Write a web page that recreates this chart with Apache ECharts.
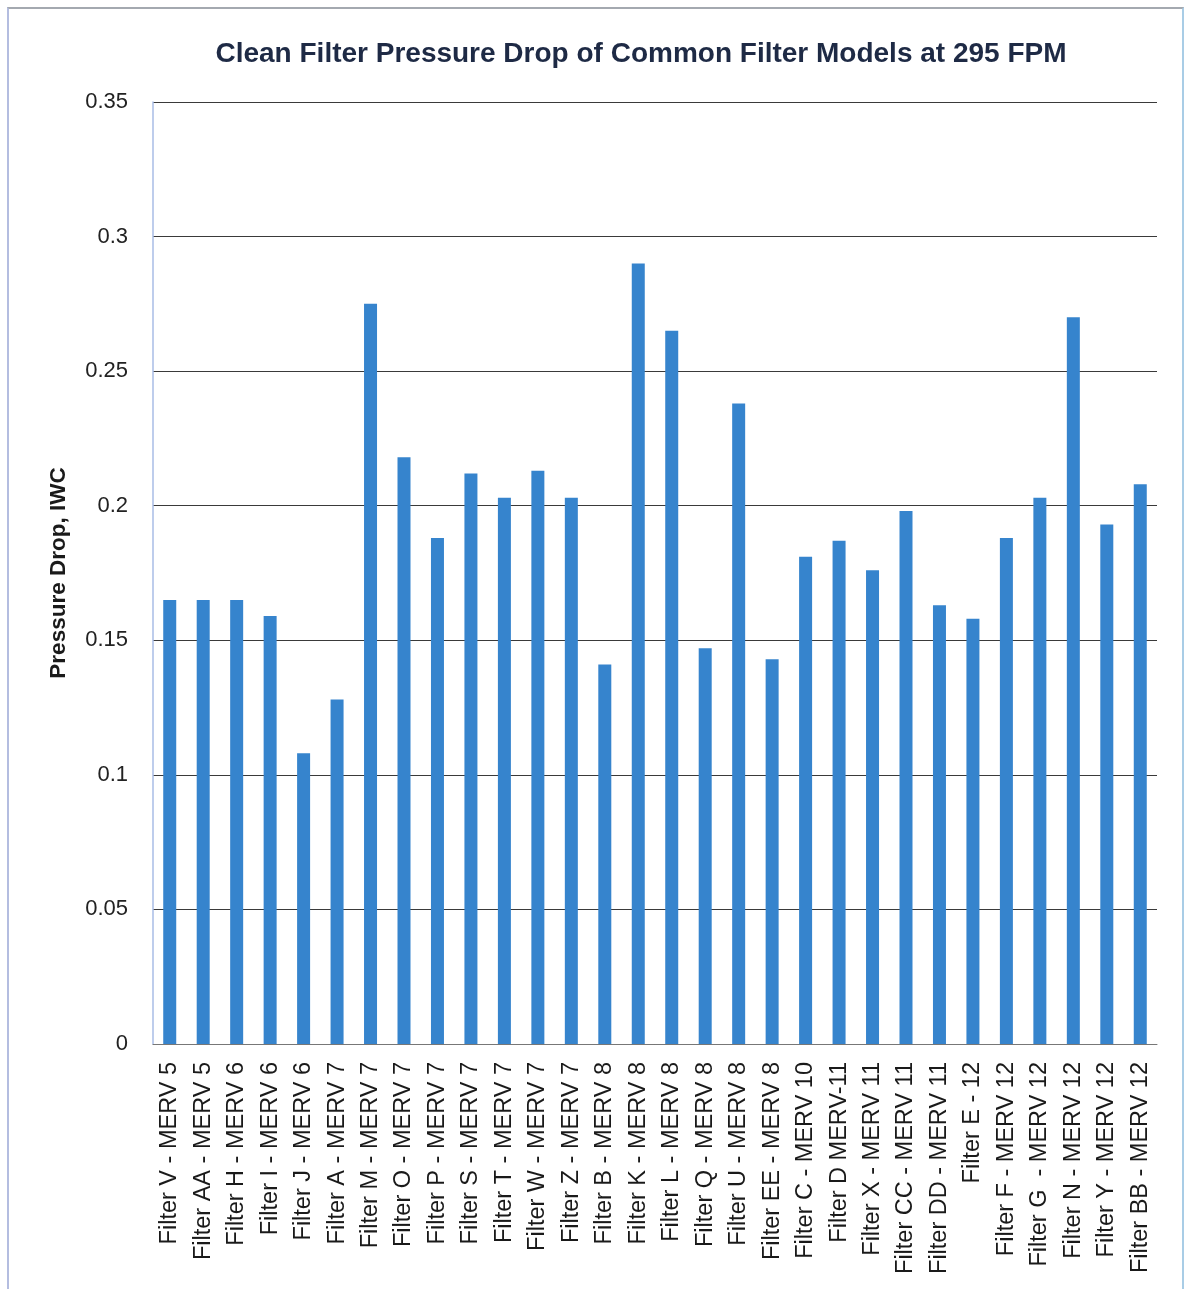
<!DOCTYPE html>
<html>
<head>
<meta charset="utf-8">
<script src="https://cdn.jsdelivr.net/npm/echarts@6/dist/echarts.min.js"></script>
<style>
  html, body { margin: 0; padding: 0; background: #fff; }
  #wrap { position: relative; width: 1194px; height: 1289px; }
  #frame { position: absolute; left: 7px; top: 7px; width: 1177px; height: 1290px;
           border-top: 2px solid #a4a9b0; border-left: 2px solid #b4bde0; border-right: 2px solid #a9cde6; box-sizing: border-box; }
  #chart { position: absolute; left: 0; top: 0; width: 1194px; height: 1289px; }
</style>
</head>
<body>
<div id="wrap">
  <div id="frame"></div>
  <div id="chart"></div>
</div>
<script>
// Filter models, in display order
const categories = [
  'Filter V - MERV 5', 'Filter AA - MERV 5', 'Filter H - MERV 6', 'Filter I - MERV 6',
  'Filter J - MERV 6', 'Filter A - MERV 7', 'Filter M - MERV 7', 'Filter O - MERV 7',
  'Filter P - MERV 7', 'Filter S - MERV 7', 'Filter T - MERV 7', 'Filter W - MERV 7',
  'Filter Z - MERV 7', 'Filter B - MERV 8', 'Filter K - MERV 8', 'Filter L - MERV 8',
  'Filter Q - MERV 8', 'Filter U - MERV 8', 'Filter EE - MERV 8', 'Filter C - MERV 10',
  'Filter D MERV-11', 'Filter X - MERV 11', 'Filter CC - MERV 11', 'Filter DD - MERV 11',
  'Filter E - 12', 'Filter F - MERV 12', 'Filter G  - MERV 12', 'Filter N - MERV 12',
  'Filter Y - MERV 12', 'Filter BB - MERV 12'
];

// Clean filter pressure drop (inches of water column) at 295 FPM
const pressureDrop = [
  0.165, 0.165, 0.165, 0.159,
  0.108, 0.128, 0.275, 0.218,
  0.188, 0.212, 0.203, 0.213,
  0.203, 0.141, 0.290, 0.265,
  0.147, 0.238, 0.143, 0.181,
  0.187, 0.176, 0.198, 0.163,
  0.158, 0.188, 0.203, 0.270,
  0.193, 0.208
];

// Value axis ticks
const yMin = 0;
const yMax = 0.35;
const yStep = 0.05;

const narrow = 'Liberation Sans Narrow, Liberation Sans, sans-serif';

const chart = echarts.init(document.getElementById('chart'), null, { renderer: 'canvas' });

chart.setOption({
  backgroundColor: 'transparent',
  animation: false,
  title: {
    text: 'Clean Filter Pressure Drop of Common Filter Models at 295 FPM',
    left: 636,
    textAlign: 'center',
    top: 35,
    textStyle: {
      fontFamily: narrow,
      fontSize: 28,
      fontWeight: 'bold',
      color: '#1e2a45'
    }
  },
  grid: { left: 153, right: 37, top: 102, bottom: 245, containLabel: false },
  xAxis: {
    type: 'category',
    data: categories,
    axisLine: { show: true, lineStyle: { color: '#777', width: 1 } },
    axisTick: { show: false },
    axisLabel: {
      rotate: 90,
      interval: 0,
      margin: 18,
      fontFamily: narrow,
      fontSize: 23.5,
      color: '#1a1a1a'
    }
  },
  yAxis: {
    type: 'value',
    min: yMin,
    max: yMax,
    interval: yStep,
    name: 'Pressure Drop, IWC',
    nameLocation: 'middle',
    nameGap: 83,
    nameRotate: 90,
    nameTextStyle: {
      fontFamily: narrow,
      fontSize: 22.5,
      fontWeight: 'bold',
      color: '#1a1a1a'
    },
    axisLine: { show: true, lineStyle: { color: '#a9bde6', width: 1.5 } },
    axisTick: { show: false },
    axisLabel: {
      margin: 25,
      fontFamily: 'Liberation Sans, sans-serif',
      fontSize: 22,
      color: '#222',
      formatter: v => String(parseFloat(v.toFixed(2)))
    },
    splitLine: { show: true, lineStyle: { color: '#3a3a3a', width: 1 } }
  },
  series: [{
    type: 'bar',
    data: pressureDrop,
    barWidth: 13,
    itemStyle: { color: '#3684cd' }
  }]
});
</script>
</body>
</html>
